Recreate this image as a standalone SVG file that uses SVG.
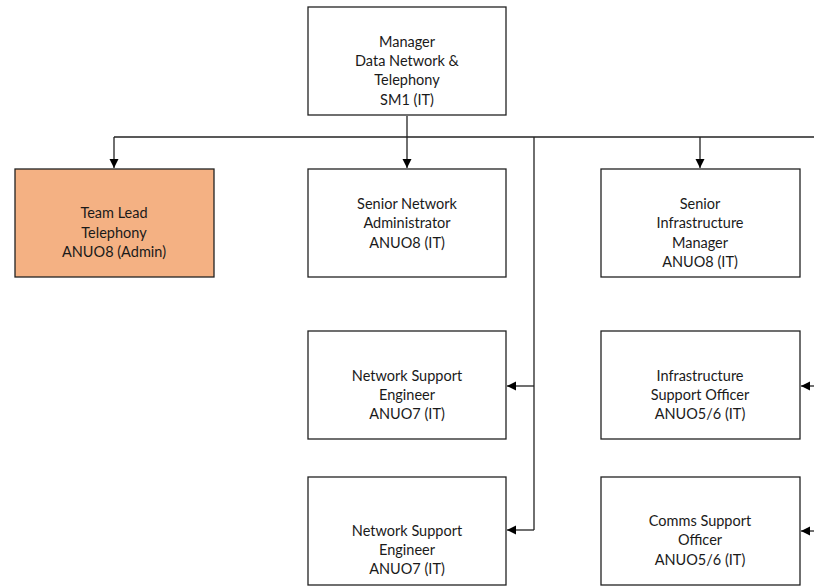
<svg xmlns="http://www.w3.org/2000/svg" width="814" height="586" viewBox="0 0 814 586">
<style>
.box{fill:#fff;stroke:#222;stroke-width:1.3}
.orange{fill:#F4B183}
.t{font-family:Lato,"Liberation Sans",sans-serif;font-size:14.5px;fill:#1a1a1a;text-anchor:middle}
.c{fill:none;stroke:#222;stroke-width:1.3}
</style>
<defs>
<marker id="ah" markerWidth="10" markerHeight="10" refX="9" refY="5" orient="auto" markerUnits="userSpaceOnUse">
<path d="M0,0.5 L9,5 L0,9.5 Z" fill="#000"/>
</marker>
</defs>
<rect width="814" height="586" fill="#fff"/>
<g id="connectors">
<path class="c" d="M407,116 V137"/>
<path class="c" d="M114,137 H814"/>
<path class="c" d="M114,137 V168" marker-end="url(#ah)"/>
<path class="c" d="M407,137 V168" marker-end="url(#ah)"/>
<path class="c" d="M700,137 V168" marker-end="url(#ah)"/>
<path class="c" d="M534,137 V530"/>
<path class="c" d="M534,386 H507" marker-end="url(#ah)"/>
<path class="c" d="M534,530 H507" marker-end="url(#ah)"/>
<path class="c" d="M814,386 H801" marker-end="url(#ah)"/>
<path class="c" d="M814,531 H801" marker-end="url(#ah)"/>
</g>
<g id="manager">
<rect class="box" x="308" y="7" width="198" height="108"/>
<text class="t" x="407" y="47">Manager</text>
<text class="t" x="407" y="66">Data Network &amp;</text>
<text class="t" x="407" y="85">Telephony</text>
<text class="t" x="407" y="105">SM1 (IT)</text>
</g>
<g id="teamlead">
<rect class="box orange" x="15" y="169" width="199" height="108"/>
<text class="t" x="114" y="218">Team Lead</text>
<text class="t" x="114" y="238">Telephony</text>
<text class="t" x="114" y="257">ANUO8 (Admin)</text>
</g>
<g id="seniornetadmin">
<rect class="box" x="308" y="169" width="198" height="108"/>
<text class="t" x="407" y="209">Senior Network</text>
<text class="t" x="407" y="228">Administrator</text>
<text class="t" x="407" y="248">ANUO8 (IT)</text>
</g>
<g id="seniorinfra">
<rect class="box" x="601" y="169" width="199" height="108"/>
<text class="t" x="700" y="209">Senior</text>
<text class="t" x="700" y="228">Infrastructure</text>
<text class="t" x="700" y="248">Manager</text>
<text class="t" x="700" y="267">ANUO8 (IT)</text>
</g>
<g id="nse1">
<rect class="box" x="308" y="331" width="198" height="108"/>
<text class="t" x="407" y="381">Network Support</text>
<text class="t" x="407" y="400">Engineer</text>
<text class="t" x="407" y="419">ANUO7 (IT)</text>
</g>
<g id="iso">
<rect class="box" x="601" y="331" width="199" height="108"/>
<text class="t" x="700" y="381">Infrastructure</text>
<text class="t" x="700" y="400">Support Officer</text>
<text class="t" x="700" y="419">ANUO5/6 (IT)</text>
</g>
<g id="nse2">
<rect class="box" x="308" y="477" width="198" height="108"/>
<text class="t" x="407" y="536">Network Support</text>
<text class="t" x="407" y="555">Engineer</text>
<text class="t" x="407" y="574">ANUO7 (IT)</text>
</g>
<g id="comms">
<rect class="box" x="601" y="477" width="199" height="108"/>
<text class="t" x="700" y="526">Comms Support</text>
<text class="t" x="700" y="545">Officer</text>
<text class="t" x="700" y="565">ANUO5/6 (IT)</text>
</g>
</svg>
